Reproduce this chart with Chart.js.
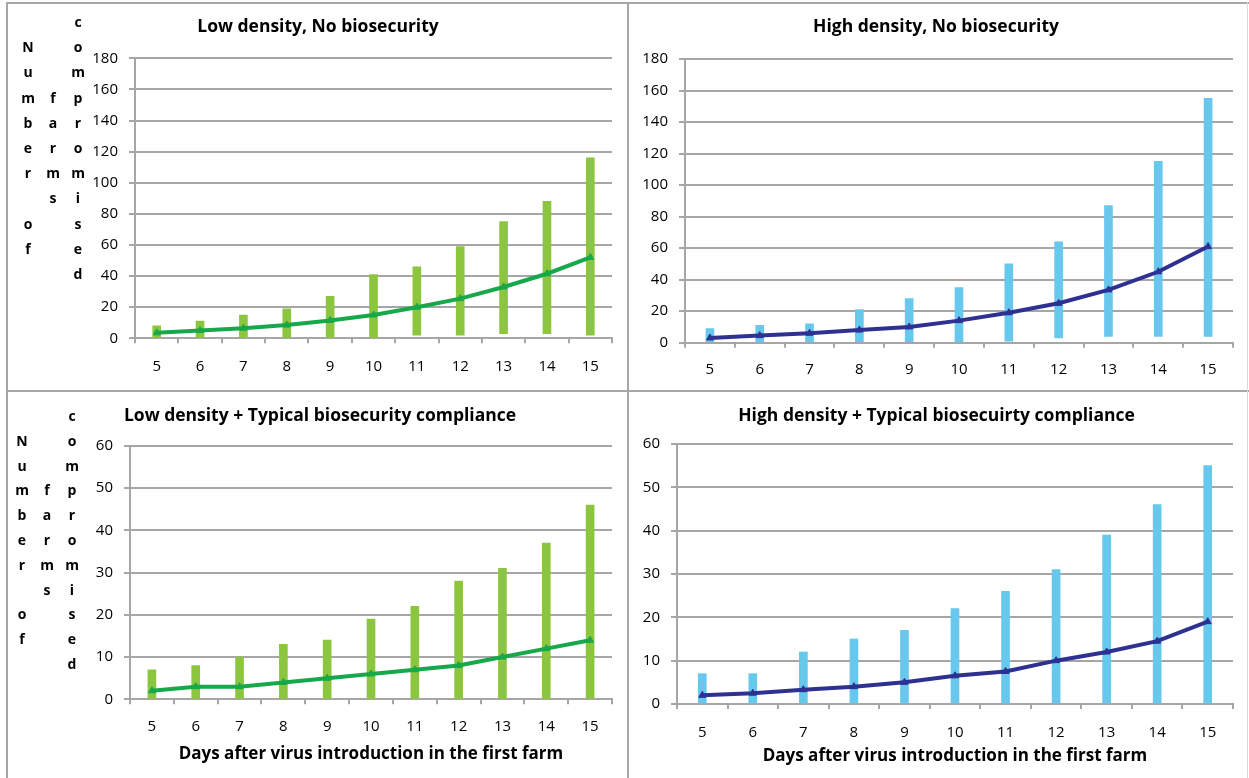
<!DOCTYPE html>
<html>
<head>
<meta charset="utf-8">
<script src="https://cdn.jsdelivr.net/npm/chart.js@4.4.1/dist/chart.umd.min.js"></script>
<style>
  html, body { margin: 0; padding: 0; background: #fff; }
  body { width: 1249px; height: 778px; position: relative; overflow: hidden; }
  canvas { position: absolute; }
  .ln { position: absolute; background: #a6a6a6; z-index: 5; }
</style>
</head>
<body>
<canvas id="c1" width="628" height="391" style="left:0;top:0"></canvas>
<canvas id="c2" width="621" height="391" style="left:628px;top:0"></canvas>
<canvas id="c3" width="628" height="387" style="left:0;top:391px"></canvas>
<canvas id="c4" width="621" height="387" style="left:628px;top:391px"></canvas>
<div class="ln" style="left:6px;top:2px;width:1243px;height:2px"></div>
<div class="ln" style="left:6px;top:2px;width:2px;height:776px"></div>
<div class="ln" style="left:627px;top:2px;width:2px;height:776px"></div>
<div class="ln" style="left:6px;top:390px;width:1243px;height:2px"></div>
<div class="ln" style="left:1247px;top:2px;width:1px;height:776px;background:#d9d9d9"></div>
<script>
// ---- data ----
const days = ['5','6','7','8','9','10','11','12','13','14','15'];

// Low density, No biosecurity
const ldnbLow  = [0, 0, 0, 0, 0, 0, 2, 2, 3, 3, 2];
const ldnbHigh = [8, 11, 15, 19, 27, 41, 46, 59, 75, 88, 116];
const ldnbMid  = [3.5, 5, 6.5, 8.5, 11.5, 15, 20, 25.5, 33, 41.5, 52];

// High density, No biosecurity
const hdnbLow  = [0, 0, 0, 0, 0, 0, 1, 3, 4, 4, 4];
const hdnbHigh = [9, 11, 12, 21, 28, 35, 50, 64, 87, 115, 155];
const hdnbMid  = [3, 4.5, 6, 8, 10, 14, 19, 25, 33.5, 45, 61];

// Low density + Typical biosecurity compliance
const ldtbLow  = [0, 0, 0, 0, 0, 0, 0, 0, 0, 0, 0];
const ldtbHigh = [7, 8, 10, 13, 14, 19, 22, 28, 31, 37, 46];
const ldtbMid  = [2, 3, 3, 4, 5, 6, 7, 8, 10, 12, 14];

// High density + Typical biosecurity compliance
const hdtbLow  = [0, 0, 0, 0, 0, 0, 0, 0, 0, 0, 0];
const hdtbHigh = [7, 7, 12, 15, 17, 22, 26, 31, 39, 46, 55];
const hdtbMid  = [2, 2.5, 3.3, 4, 5, 6.5, 7.5, 10, 12, 14.5, 19];

const yTicksTop = [0, 180, 20];
const yTicksBottom = [0, 60, 10];

const titles = [
  'Low density, No biosecurity',
  'High density, No biosecurity',
  'Low density + Typical biosecurity compliance',
  'High density + Typical biosecuirty compliance'
];
const yTitleLines = ['Number of', 'farms', 'compromised'];
const xTitle = 'Days after virus introduction in the first farm';

// ---- style ----
const FONT = '"Open Sans", Lato, "DejaVu Sans", sans-serif';
const GRID = '#a6a6a6';
const GREEN_BAR = '#8cc63f';
const GREEN_LINE = '#17a84b';
const BLUE_BAR = '#67c7ec';
const NAVY_LINE = '#2e3192';

const stackedTitle = {
  id: 'stackedTitle',
  afterDraw(chart, args, opts) {
    if (!opts || !opts.lines) return;
    const ctx = chart.ctx;
    ctx.save();
    ctx.font = 'bold 14px ' + FONT;
    ctx.fillStyle = '#000';
    ctx.textAlign = 'center';
    ctx.textBaseline = 'middle';
    opts.lines.forEach((line, c) => {
      const chars = Array.from(line);
      const y0 = opts.cy - (chars.length - 1) * opts.step / 2;
      chars.forEach((ch, k) => {
        if (ch !== ' ') ctx.fillText(ch, opts.x[c], y0 + k * opts.step);
      });
    });
    ctx.restore();
  }
};

function makeChart(id, o) {
  const datasets = [
    {
      type: 'bar',
      data: days.map((d, i) => [o.low[i], o.high[i]]),
      backgroundColor: o.barColor,
      borderWidth: 0,
      barThickness: 8,
      order: 1
    },
    {
      type: 'line',
      data: o.mid,
      borderColor: o.lineColor,
      backgroundColor: o.lineColor,
      borderWidth: 4,
      tension: 0,
      pointStyle: 'triangle',
      pointRadius: 4,
      pointBackgroundColor: o.lineColor,
      pointBorderColor: o.lineColor,
      pointBorderWidth: 1,
      order: 0
    }
  ];
  const xScale = {
    type: 'category',
    offset: true,
    grid: { offset: true, drawOnChartArea: false, drawTicks: true, tickLength: 5, color: GRID, lineWidth: 2 },
    border: { display: true, color: GRID, width: 2 },
    ticks: { padding: o.xPad, color: '#000', font: { family: FONT, size: 15 }, maxRotation: 0, autoSkip: false },
    afterFit: s => { s.height = o.xH; }
  };
  if (o.xTitle) {
    xScale.title = { display: true, text: xTitle, color: '#000', font: { family: FONT, size: 17, weight: 'bold' },
      padding: { top: 0, bottom: o.xTitlePad } };
  }
  new Chart(document.getElementById(id), {
    type: 'bar',
    data: { labels: days, datasets },
    options: {
      responsive: false,
      animation: false,
      events: [],
      layout: { padding: { left: o.padL, right: o.padR, top: 0, bottom: 0 } },
      plugins: {
        legend: { display: false },
        tooltip: { enabled: false },
        title: { display: true, text: o.title, color: '#000', font: { family: FONT, size: 17.5, weight: 'bold' },
          padding: { top: o.tTop, bottom: o.tBot } },
        stackedTitle: o.stacked || {}
      },
      scales: {
        x: xScale,
        y: {
          min: o.yt[0], max: o.yt[1],
          ticks: { stepSize: o.yt[2], padding: 11, color: '#000', font: { family: FONT, size: 15 } },
          grid: { color: GRID, lineWidth: 2, tickLength: 6 },
          border: { display: true, color: GRID, width: 2 },
          afterFit: s => { s.width = o.axisX - o.padL; }
        }
      }
    },
    plugins: [stackedTitle]
  });
}

makeChart('c1', {
  title: titles[0], low: ldnbLow, high: ldnbHigh, mid: ldnbMid,
  barColor: GREEN_BAR, lineColor: GREEN_LINE, yt: yTicksTop,
  axisX: 135, padL: 24, padR: 16, xH: 52.7, xPad: 14, tTop: 16.5, tBot: 20.8,
  stacked: { lines: yTitleLines, x: [28, 53, 78], cy: 149, step: 25.2 }
});
makeChart('c2', {
  title: titles[1], low: hdnbLow, high: hdnbHigh, mid: hdnbMid,
  barColor: BLUE_BAR, lineColor: NAVY_LINE, yt: yTicksTop,
  axisX: 57, padL: 11, padR: 16, xH: 48.3, xPad: 13, tTop: 16.5, tBot: 21.5
});
makeChart('c3', {
  title: titles[2], low: ldtbLow, high: ldtbHigh, mid: ldtbMid,
  barColor: GREEN_BAR, lineColor: GREEN_LINE, yt: yTicksBottom,
  axisX: 130, padL: 28, padR: 16, xH: 78.7, xPad: 13.7, tTop: 14.5, tBot: 19.5,
  xTitle: true, xTitlePad: 13.8,
  stacked: { lines: yTitleLines, x: [22, 47, 72], cy: 150, step: 24.8 }
});
makeChart('c4', {
  title: titles[3], low: hdtbLow, high: hdtbHigh, mid: hdtbMid,
  barColor: BLUE_BAR, lineColor: NAVY_LINE, yt: yTicksBottom,
  axisX: 49, padL: 12, padR: 16, xH: 74, xPad: 15, tTop: 14.5, tBot: 17.5,
  xTitle: true, xTitlePad: 11.8
});
</script>
</body>
</html>
